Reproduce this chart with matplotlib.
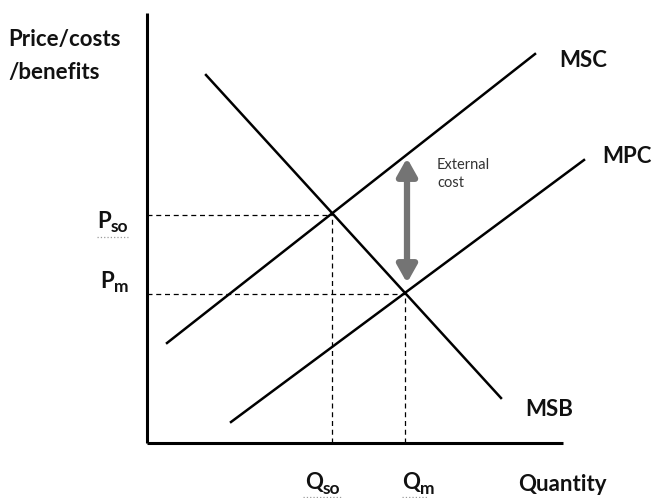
import matplotlib
matplotlib.use("Agg")
import matplotlib.pyplot as plt
from matplotlib.patches import FancyArrowPatch

# ---- data (quantity, price units) ----
msc_q = [2.0, 38.8]
msc_p = [10.0, 38.9]
mpc_q = [8.4, 43.7]
mpc_p = [2.1, 28.3]
msb_q = [5.9, 35.4]
msb_p = [36.8, 4.5]
q_so, p_so = 18.5, 22.8
q_m, p_m = 25.8, 14.9
ext_q = 26.0
ext_top, ext_bottom = 28.5, 16.0
axis_q_max = 41.6
axis_p_max = 43.0

FONT = ["Lato", "DejaVu Sans"]

fig = plt.figure(figsize=(6.54, 4.98), dpi=100)
ax = fig.add_axes([0, 0, 1, 1])
ax.set_xlim(-14.7, 50.7)
ax.set_ylim(-5.5, 44.3)
ax.axis("off")

# axes lines
ax.plot([0, 0], [0, axis_p_max], color="black", lw=2.2, solid_capstyle="butt")
ax.plot([0, axis_q_max], [0, 0], color="black", lw=2.2, solid_capstyle="butt")

# curves
for q, p in [(msc_q, msc_p), (mpc_q, mpc_p), (msb_q, msb_p)]:
    ax.plot(q, p, color="black", lw=1.8)

# dashed guides
dash = dict(color="black", lw=0.9, dashes=(4, 3))
ax.plot([0, q_so], [p_so, p_so], **dash)
ax.plot([q_so, q_so], [0, p_so], **dash)
ax.plot([0, q_m], [p_m, p_m], **dash)
ax.plot([q_m, q_m], [0, p_m], **dash)

# external cost arrow
arr = FancyArrowPatch((ext_q, ext_bottom), (ext_q, ext_top),
                      arrowstyle="<|-|>,head_length=0.8,head_width=0.45",
                      mutation_scale=13, color="#747474", lw=4.5,
                      shrinkA=0, shrinkB=0)
ax.add_patch(arr)

bold = dict(fontfamily=FONT, fontweight="bold", fontsize=16, color="#111111", va="baseline")
ax.text(-13.9, 39.7, "Price/costs", **bold)
ax.text(-13.9, 36.4, "/benefits", **bold)
ax.text(41.2, 37.6, "MSC", **bold)
ax.text(45.5, 28.0, "MPC", **bold)
ax.text(37.8, 2.7, "MSB", **bold)
ax.text(37.1, -4.8, "Quantity", **bold)

# subscripted labels
def sub_label(x, y, main, sub):
    t = ax.text(x, y, main, **bold)
    fig.canvas.draw()
    bb = t.get_window_extent()
    x2 = ax.transData.inverted().transform((bb.x1, 0))[0]
    ax.text(x2, y - 0.45, sub, fontfamily=FONT, fontweight="bold",
            fontsize=12.5, color="#111111", va="baseline")

sub_label(-5.0, 21.5, "P", "so")
sub_label(-4.7, 15.5, "P", "m")
sub_label(15.8, -4.6, "Q", "so")
sub_label(25.5, -4.6, "Q", "m")

# spell-check squiggles
sq = dict(color="#9a9a9a", lw=0.9, ls=":")
ax.plot([-5.0, -1.9], [20.6, 20.6], **sq)
ax.plot([15.6, 19.4], [-5.4, -5.4], **sq)
ax.plot([25.5, 28.0], [-5.4, -5.4], **sq)

small = dict(fontfamily=FONT, fontsize=10.5, color="#333333", va="baseline")
ax.text(29.0, 27.4, "External", **small)
ax.text(29.0, 25.6, "cost", **small)

fig.savefig("out.png", dpi=100)
